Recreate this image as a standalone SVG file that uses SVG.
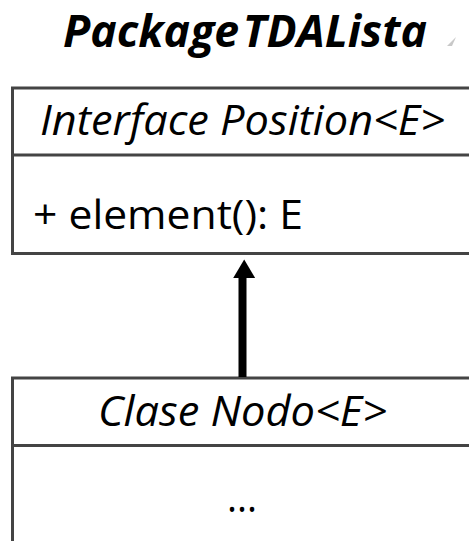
<svg xmlns="http://www.w3.org/2000/svg" width="469" height="541" viewBox="0 0 469 541">
  <style>
    .box { fill: none; stroke: #444444; stroke-width: 3; stroke-linecap: square; }
    .txt { font-family: "Open Sans", "Noto Sans", sans-serif; fill: #000000; }
    .ital { font-style: italic; }
    .title { font-weight: bold; font-style: italic; }
    .link { stroke: #000000; stroke-width: 8; fill: none; }
  </style>
  <defs>
    <marker id="solidHead" markerUnits="userSpaceOnUse" markerWidth="26" markerHeight="22" refX="0" refY="11" orient="auto" viewBox="0 0 22 26">
      <path d="M0,0 L22,13 L0,26 Z" fill="#000000"/>
    </marker>
  </defs>
  <rect width="469" height="541" fill="#ffffff"/>

  <!-- package caption -->
  <g id="package-title">
    <text class="txt title" x="63" y="47" font-size="45" word-spacing="-8" textLength="364" lengthAdjust="spacingAndGlyphs">Package TDALista</text>
    <polygon points="456,37 447,46 452,46" fill="#c8c8c8"/>
  </g>

  <!-- interface Position: box runs past the right edge -->
  <g id="position">
    <path class="box" d="M480,88 H12.5 V253.5 H480 M12.5,155 H480"/>
    <text class="txt ital" x="40" y="135" font-size="42" textLength="405" lengthAdjust="spacingAndGlyphs">Interface Position&lt;E&gt;</text>
    <text class="txt" x="33" y="229" font-size="41" textLength="270" lengthAdjust="spacingAndGlyphs">+ element(): E</text>
  </g>

  <!-- class Nodo: box runs past the right and bottom edges -->
  <g id="nodo">
    <path class="box" d="M480,378 H12.5 V560 M12.5,445.5 H480"/>
    <text class="txt ital" x="98" y="426" font-size="42" textLength="289" lengthAdjust="spacingAndGlyphs">Clase Nodo&lt;E&gt;</text>
    <text class="txt" x="227" y="512" font-size="42" textLength="30" lengthAdjust="spacingAndGlyphs">...</text>
  </g>

  <!-- realization connector -->
  <g id="connectors">
    <path class="link" d="M242.5,377 L242.5,278" marker-end="url(#solidHead)"/>
  </g>
</svg>
